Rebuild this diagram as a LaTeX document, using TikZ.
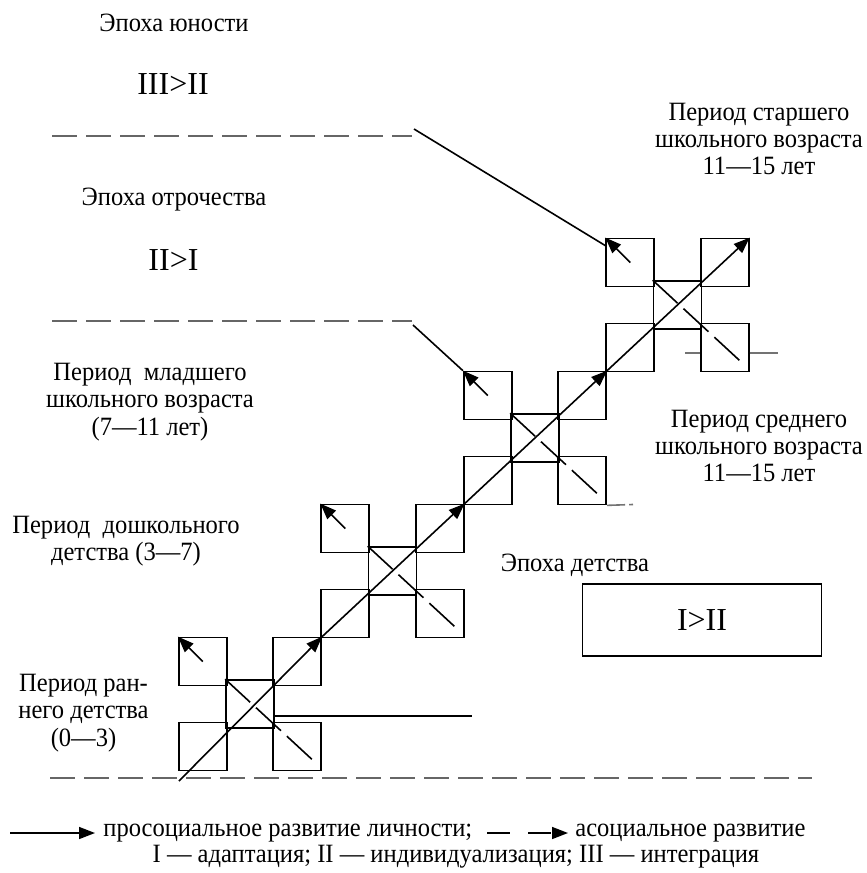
\documentclass[tikz,border=0pt]{standalone}
\usepackage{fontspec}
\setmainfont{Liberation Serif}
\newfontfamily\narrowserif{Liberation Serif}[FakeStretch=0.93]
\usetikzlibrary{arrows.meta}

\begin{document}
\begin{tikzpicture}[x=0.5pt, y=-0.5pt,
		sq/.style={draw, rectangle, minimum size=24pt, inner sep=0pt, line width=0.85pt},
		lbl/.style={font=\narrowserif\fontsize{13.2}{13.6}\selectfont, align=center, inner sep=0pt},
		rom/.style={font=\fontsize{16}{18}\selectfont, inner sep=0pt},
		pro/.style={line width=0.8pt, -{Triangle[length=8pt,width=6pt]}},
		asoc/.style={line width=0.8pt, dash pattern=on 17pt off 4pt},
		bound/.style={black!60, line width=0.8pt, dash pattern=on 12.5pt off 4.5pt}]
			\useasboundingbox (0,0) rectangle (867,873);
			
			% epochs
			\node[lbl] (yun) at (174,23) {Эпоха юности};
			\node[rom] (yunr) at (173,84) {III>II};
			\node[lbl] (otr) at (174,200) {Эпоха отрочества};
			\node[rom] (otrr) at (173.5,260) {II>I};
			\node[lbl] (det) at (575,565) {Эпоха детства};
			\node[draw, rectangle, line width=0.85pt, minimum width=119.5pt, minimum height=36pt, font=\fontsize{16}{18}\selectfont] (detr) at (702,620) {I>II};
			
			% periods
			\node[lbl] (star) at (759,139) {Период старшего\\школьного возраста\\11—15 лет};
			\node[lbl] (sred) at (759,446) {Период среднего\\школьного возраста\\11—15 лет};
			\node[lbl] (mlad) at (150,402) {Период\ \ младшего\\школьного возраста\\(7—11 лет)};
			\node[lbl] (dosh) at (126,541) {Период\ \ дошкольного\\детства (3—7)};
			\node[lbl] (ran) at (83.5,713) {Период ран-\\него детства\\(0—3)};
			
			% boundaries
			\draw[bound] (52,136) -- (412,136);
			\draw[bound] (52,321) -- (412,321);
			\draw[bound] (50,778) -- (812,778);
			
			% cluster 1
			\node[sq] (c1) at (250,704) {};
			\node[sq] (c1tl) at (202.75,661.5) {};
			\node[sq] (c1tr) at (297.25,661.5) {};
			\node[sq] (c1bl) at (202.75,746.5) {};
			\node[sq] (c1br) at (297.25,746.5) {};
			% cluster 2
			\node[sq] (c2) at (392.5,571) {};
			\node[sq] (c2tl) at (345.25,528.5) {};
			\node[sq] (c2tr) at (439.75,528.5) {};
			\node[sq] (c2bl) at (345.25,613.5) {};
			\node[sq] (c2br) at (439.75,613.5) {};
			% cluster 3
			\node[sq] (c3) at (535,438) {};
			\node[sq] (c3tl) at (487.75,395.5) {};
			\node[sq] (c3tr) at (582.25,395.5) {};
			\node[sq] (c3bl) at (487.75,480.5) {};
			\node[sq] (c3br) at (582.25,480.5) {};
			% cluster 4
			\node[sq] (c4) at (677.5,305) {};
			\node[sq] (c4tl) at (630.25,262.5) {};
			\node[sq] (c4tr) at (724.75,262.5) {};
			\node[sq] (c4bl) at (630.25,347.5) {};
			\node[sq] (c4br) at (724.75,347.5) {};
			
			\coordinate (start) at (179,781);
			\coordinate (y1) at (414,129);
			\coordinate (y2) at (413,325);
			\coordinate (h1) at (472,716);
			\coordinate (g1) at (685,353);
			\coordinate (g2) at (778,353);
			\coordinate (g3) at (633,504.5);
			
			% prosocial line
			\draw[pro] (start) to (c1tr.north east);
			\draw[pro] (c1tr.north east) to (c2tr.north east);
			\draw[pro] (c2tr.north east) to (c3tr.north east);
			\draw[pro] (c3tr.north east) to (c4tr.north east);
			\draw[pro] (c1tl.center) to (c1tl.north west);
			\draw[pro] (c2tl.center) to (c2tl.north west);
			\draw[pro] (c3tl.center) to (c3tl.north west);
			\draw[pro] (c4tl.center) to (c4tl.north west);
			
			% asocial line
			\draw[asoc] (c1.north west) to ([xshift=8.5pt,yshift=-7.5pt]c1br.center);
			\draw[asoc] (c2.north west) to ([xshift=8.5pt,yshift=-7.5pt]c2br.center);
			\draw[asoc] (c3.north west) to ([xshift=8.5pt,yshift=-7.5pt]c3br.center);
			\draw[asoc] (c4.north west) to ([xshift=8.5pt,yshift=-7.5pt]c4br.center);
			
			% other lines
			\draw[line width=0.8pt] (y1) to ([yshift=-4pt]c4tl.north west);
			\draw[line width=0.8pt] (y2) to (c3tl.north west);
			\draw[line width=0.8pt] ([yshift=-6pt]c1.east) to (h1);
			\draw[black!55, line width=0.8pt] (g1) to ([yshift=-2.75pt]c4br.west);
			\draw[black!55, line width=0.8pt] ([yshift=-2.75pt]c4br.east) to (g2);
			\draw[black!55, line width=0.8pt, dash pattern=on 9pt off 2pt] (c3br.south east) to (g3);
			
			% legend
			\coordinate (l1) at (10,833);
			\coordinate (l2) at (95,833);
			\coordinate (l3) at (487,833);
			\coordinate (l4) at (568,833);
			\node[lbl, anchor=west] (leg1) at (103,833) {просоциальное развитие личности;};
			\node[lbl, anchor=west] (leg2) at (575,833) {асоциальное развитие};
			\node[lbl] (leg3) at (456,857) {I — адаптация; II — индивидуализация; III — интеграция};
			\draw[pro] (l1) to (l2);
			\draw[pro, dash pattern=on 11.5pt off 9pt] (l3) to (l4);
		\end{tikzpicture}
\end{document}
